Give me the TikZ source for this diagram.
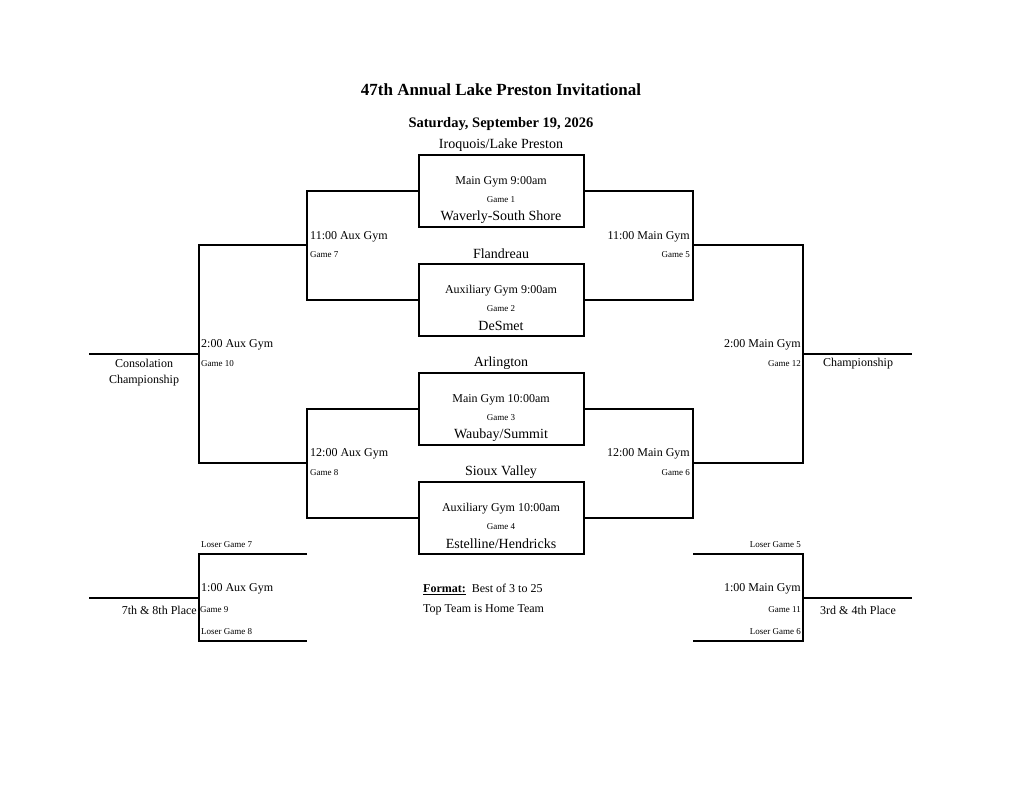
\documentclass[tikz,border=0pt]{standalone}
\usepackage{fontspec}
\setmainfont{Liberation Serif}
\begin{document}
\begin{tikzpicture}[x=1pt,y=-1pt,
  ln/.style={line width=1.3pt},
  big/.style={font=\fontsize{14}{16}\selectfont,inner sep=0pt},
  mid/.style={font=\fontsize{12}{14}\selectfont,inner sep=0pt},
  sm/.style={font=\fontsize{9}{11}\selectfont,inner sep=0pt}]
\useasboundingbox[fill=white] (0,0) rectangle (1024,791);
\node[font=\bfseries\fontsize{17}{20}\selectfont] (title) at (501,90) {47th Annual Lake Preston Invitational};
\node[font=\bfseries\fontsize{14.5}{17}\selectfont] (date) at (501,124) {Saturday, September 19, 2026};
% game boxes
\foreach \n/\y/\top/\gym/\bot in {1/155/Iroquois\slash Lake Preston/Main Gym 9:00am/Waverly-South Shore,
  2/264/Flandreau/Auxiliary Gym 9:00am/DeSmet,
  3/373/Arlington/Main Gym 10:00am/Waubay\slash Summit,
  4/482/Sioux Valley/Auxiliary Gym 10:00am/Estelline\slash Hendricks}{
  \draw[ln] (419,\y) rectangle (584,\y+72);
  \node[big] (t\n) at (501,\y-10) {\top};
  \node[mid] (g\n) at (501,\y+27) {\gym};
  \node[sm] (n\n) at (501,\y+45) {Game \n};
  \node[big] (b\n) at (501,\y+62) {\bot};
}
% round 1 lines
\draw[ln] (419,191) -- (307,191) -- (307,300) -- (419,300);
\draw[ln] (584,191) -- (693,191) -- (693,300) -- (584,300);
\draw[ln] (419,409) -- (307,409) -- (307,518) -- (419,518);
\draw[ln] (584,409) -- (693,409) -- (693,518) -- (584,518);
\draw[ln] (307,245) -- (199,245) -- (199,463) -- (307,463);
\draw[ln] (693,245) -- (803,245) -- (803,463) -- (693,463);
\draw[ln] (89,354) -- (199,354);
\draw[ln] (803,354) -- (912,354);
% lower brackets
\draw[ln] (307,554) -- (199,554) -- (199,641) -- (307,641);
\draw[ln] (89,598) -- (199,598);
\draw[ln] (693,554) -- (803,554) -- (803,641) -- (693,641);
\draw[ln] (803,598) -- (912,598);
% labels
\node[mid,anchor=west] (l7) at (310,237) {11:00 Aux Gym};
\node[sm,anchor=west] (l7g) at (310,255) {Game 7};
\node[mid,anchor=east] (l5) at (690,237) {11:00 Main Gym};
\node[sm,anchor=east] (l5g) at (690,255) {Game 5};
\node[mid,anchor=west] (l8) at (310,454) {12:00 Aux Gym};
\node[sm,anchor=west] (l8g) at (310,473) {Game 8};
\node[mid,anchor=east] (l6) at (690,454) {12:00 Main Gym};
\node[sm,anchor=east] (l6g) at (690,473) {Game 6};
\node[mid,anchor=west] (l10) at (201,345) {2:00 Aux Gym};
\node[sm,anchor=west] (l10g) at (201,364) {Game 10};
\node[mid,align=center] (cons) at (144,373) {Consolation\\[2pt]Championship};
\node[mid,anchor=east] (l12) at (801,345) {2:00 Main Gym};
\node[sm,anchor=east] (l12g) at (801,364) {Game 12};
\node[mid] (champ) at (858,364) {Championship};
\node[sm,anchor=west] (lg7) at (201,545) {Loser Game 7};
\node[mid,anchor=west] (l9) at (201,589) {1:00 Aux Gym};
\node[sm,anchor=west] (l9g) at (200,610) {Game 9};
\node[mid,anchor=east] (p78) at (197,610) {7th \& 8th Place};
\node[sm,anchor=west] (lg8) at (201,632) {Loser Game 8};
\node[sm,anchor=east] (lg5) at (801,545) {Loser Game 5};
\node[mid,anchor=east] (l11) at (801,589) {1:00 Main Gym};
\node[sm,anchor=east] (l11g) at (801,610) {Game 11};
\node[mid] (p34) at (858,610) {3rd \& 4th Place};
\node[sm,anchor=east] (lg6) at (801,632) {Loser Game 6};
\node[mid,anchor=west] (fmt) at (423,589) {\textbf{\underline{Format:}}\ \ Best of 3 to 25};
\node[mid,anchor=west] (home) at (423,610) {Top Team is Home Team};
\end{tikzpicture}
\end{document}
